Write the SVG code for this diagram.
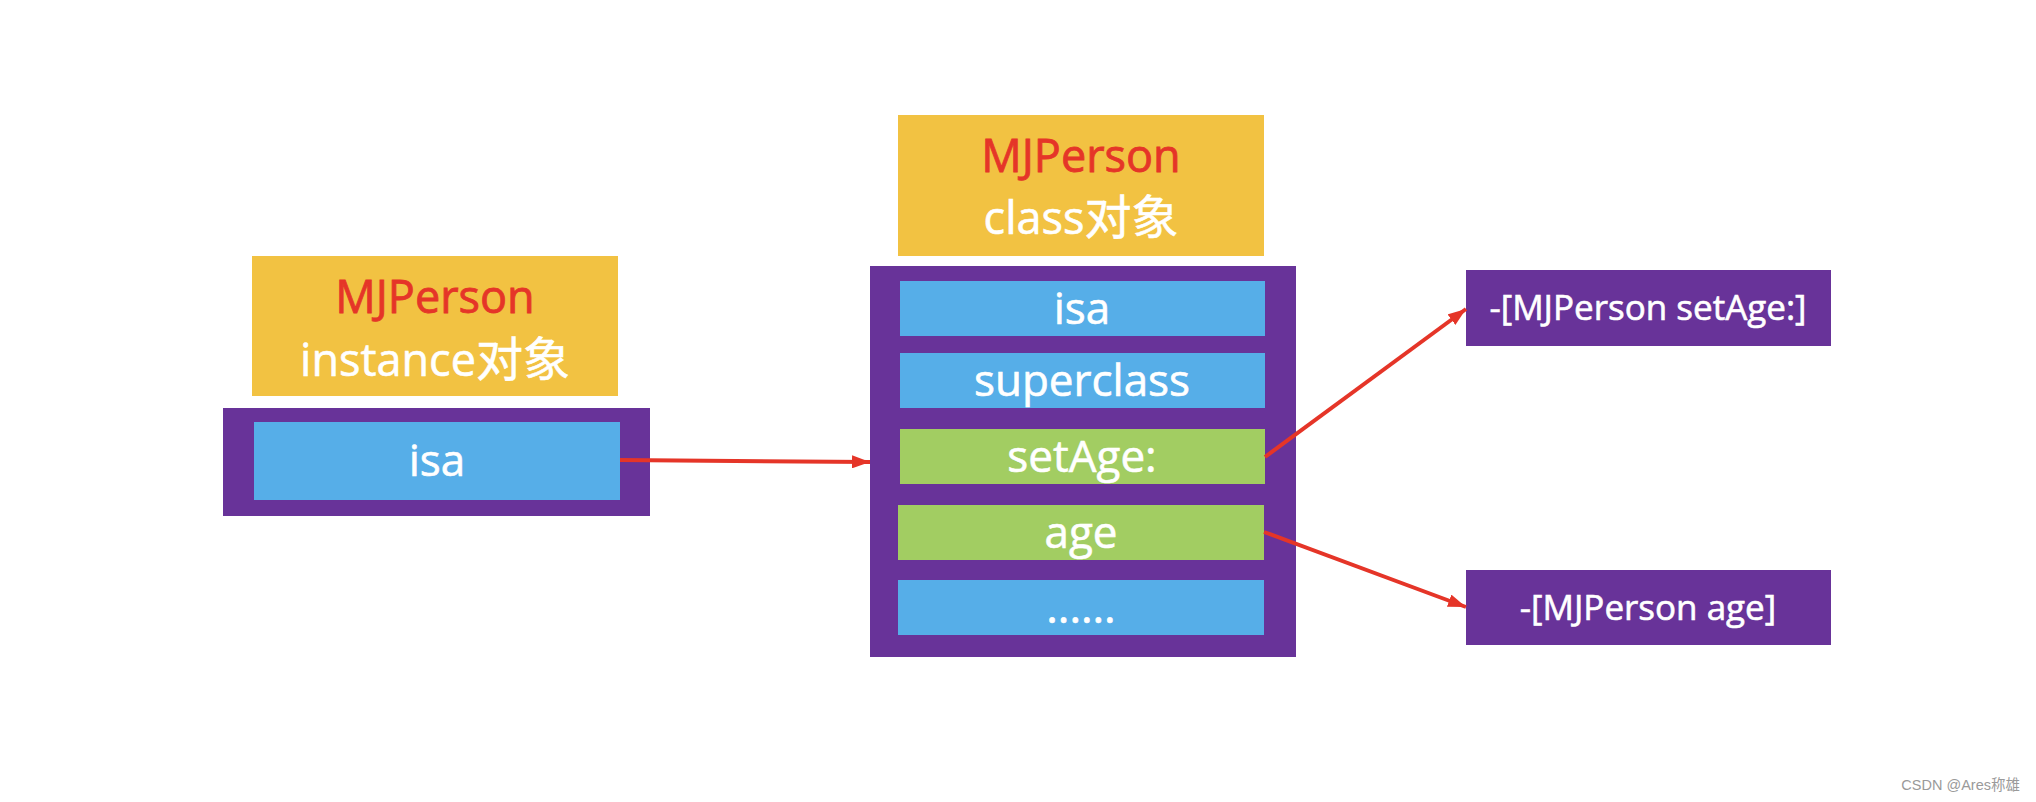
<svg xmlns="http://www.w3.org/2000/svg" width="2036" height="802" viewBox="0 0 2036 802">
<style>
.t{font-family:"Open Sans","Noto Sans CJK SC",sans-serif;text-anchor:middle}
.w{fill:#ffffff;stroke:#ffffff;stroke-width:0.6}
.r{fill:#E53528;stroke:#E53528;stroke-width:0.8}
.ttl{font-size:45px}
.row{font-size:44px}
.sm{font-size:35px}
.cjk{font-family:"Noto Sans CJK SC",sans-serif;font-size:47px}
.yel{fill:#F2C242}
.pur{fill:#683399}
.blu{fill:#56AEE8}
.grn{fill:#A2CD62}
.conn{stroke:#E53528;stroke-width:4;fill:none}
</style>
<defs>
<marker id="ah" markerUnits="userSpaceOnUse" markerWidth="18" markerHeight="13" refX="18" refY="6.5" orient="auto">
<path d="M0,0 L18,6.5 L0,13 z" fill="#E53528"/>
</marker>
</defs>
<rect width="2036" height="802" fill="#ffffff"/>

<g id="instance-title">
<rect class="yel" x="252" y="256" width="366" height="140"/>
<text class="t r ttl" x="435" y="313">MJPerson</text>
<text class="t w ttl" x="435" y="376">instance<tspan class="cjk">对象</tspan></text>
</g>

<g id="instance-object">
<rect class="pur" x="223" y="408" width="427" height="108"/>
<rect class="blu" x="254" y="422" width="366" height="78"/>
<text class="t w row" x="437" y="476">isa</text>
</g>

<g id="class-title">
<rect class="yel" x="898" y="115" width="366" height="141"/>
<text class="t r ttl" x="1081" y="172">MJPerson</text>
<text class="t w ttl" x="1081" y="234">class<tspan class="cjk">对象</tspan></text>
</g>

<g id="class-object">
<rect class="pur" x="870" y="266" width="426" height="391"/>
<g id="row-isa">
<rect class="blu" x="900" y="281" width="365" height="55"/>
<text class="t w row" x="1082" y="324">isa</text>
</g>
<g id="row-superclass">
<rect class="blu" x="900" y="353" width="365" height="55"/>
<text class="t w row" x="1082" y="396">superclass</text>
</g>
<g id="row-setAge">
<rect class="grn" x="900" y="429" width="365" height="55"/>
<text class="t w row" x="1082" y="472">setAge:</text>
</g>
<g id="row-age">
<rect class="grn" x="898" y="505" width="366" height="55"/>
<text class="t w row" x="1081" y="548">age</text>
</g>
<g id="row-more">
<rect class="blu" x="898" y="580" width="366" height="55"/>
<text class="t w row" x="1081" y="623">......</text>
</g>
</g>

<g id="method-setAge">
<rect class="pur" x="1466" y="270" width="365" height="76"/>
<text class="t w sm" x="1648" y="320">-[MJPerson setAge:]</text>
</g>

<g id="method-age">
<rect class="pur" x="1466" y="570" width="365" height="75"/>
<text class="t w sm" x="1648" y="620">-[MJPerson age]</text>
</g>

<g id="connectors">
<line class="conn" x1="620" y1="460" x2="870" y2="462" marker-end="url(#ah)"/>
<line class="conn" x1="1265" y1="457" x2="1466" y2="309" marker-end="url(#ah)"/>
<line class="conn" x1="1264" y1="532" x2="1466" y2="607" marker-end="url(#ah)"/>
</g>

<text x="2020" y="790" style="font-family:'Liberation Sans','Noto Sans CJK SC',sans-serif;font-size:14.5px;fill:#9a9a9a;text-anchor:end">CSDN @Ares称雄</text>
</svg>
